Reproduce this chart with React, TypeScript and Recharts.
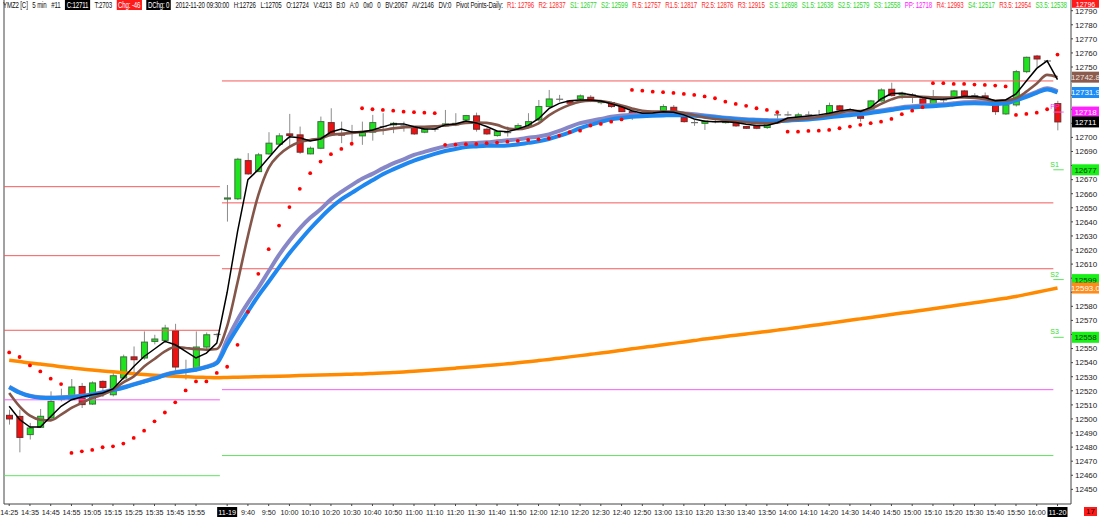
import React from 'react';
import { ComposedChart, Bar, Line, XAxis, YAxis, ReferenceLine } from 'recharts';

// 5 min bars: Fri close, Mon 11-19 session, first bar of Tue 11-20
const times = [
  '14:25', '14:30', '14:35', '14:40', '14:45', '14:50', '14:55', '15:00', '15:05', '15:10',
  '15:15', '15:20', '15:25', '15:30', '15:35', '15:40', '15:45', '15:50', '15:55', '16:00', '16:05',
  '9:30', '9:35', '9:40', '9:45', '9:50', '9:55',
  '10:00', '10:05', '10:10', '10:15', '10:20', '10:25', '10:30', '10:35', '10:40', '10:45', '10:50', '10:55',
  '11:00', '11:05', '11:10', '11:15', '11:20', '11:25', '11:30', '11:35', '11:40', '11:45', '11:50', '11:55',
  '12:00', '12:05', '12:10', '12:15', '12:20', '12:25', '12:30', '12:35', '12:40', '12:45', '12:50', '12:55',
  '13:00', '13:05', '13:10', '13:15', '13:20', '13:25', '13:30', '13:35', '13:40', '13:45', '13:50', '13:55',
  '14:00', '14:05', '14:10', '14:15', '14:20', '14:25', '14:30', '14:35', '14:40', '14:45', '14:50', '14:55',
  '15:00', '15:05', '15:10', '15:15', '15:20', '15:25', '15:30', '15:35', '15:40', '15:45', '15:50', '15:55',
  '16:00', '16:05',
  '9:30',
];
const dateTags: Record<number, string> = { 21: '11-19', 101: '11-20' };
const xTicks = [
  0, 2, 4, 6, 8, 10, 12, 14, 16, 18,
  21, 23, 25, 27, 29, 31, 33, 35, 37, 39, 41, 43, 45, 47, 49, 51, 53, 55, 57, 59,
  61, 63, 65, 67, 69, 71, 73, 75, 77, 79, 81, 83, 85, 87, 89, 91, 93, 95, 97, 99, 101,
];
const yTicks = [
  12450, 12460, 12470, 12480, 12490, 12500, 12510, 12520, 12530, 12540, 12550, 12560,
  12570, 12580, 12590, 12600, 12610, 12620, 12630, 12640, 12650, 12660, 12670, 12680,
  12690, 12700, 12710, 12720, 12730, 12740, 12750, 12760, 12770, 12780, 12790,
];

const opens = [
  12502.6, 12501.8, 12488.9, 12494.1, 12500.7, 12513.5, 12513.7, 12523.1, 12510.6, 12526.7,
  12517.2, 12529.1, 12544.1, 12543.3, 12555.1, 12555.8, 12562.7, 12534.5, 12536.2, 12551.1,
  12559.8,
  12656.2, 12656.4, 12683.5, 12675.7, 12688.3, 12695.2, 12702.5, 12701.8, 12688.3, 12692.3,
  12710.5, 12702.5, 12703, 12701.1, 12703.7, 12707.7, 12708.9, 12708.2, 12707.2, 12703.7,
  12705.8, 12708.2, 12708.9, 12712.4, 12715.3, 12705.8, 12701.3, 12703.4, 12706.5, 12708.2,
  12712.4, 12721.9, 12727.1, 12725.9, 12727.3, 12728.5, 12724.7, 12724.7, 12721.9, 12718.3,
  12717.6, 12717.2, 12719, 12721.4, 12714.1, 12710.5, 12710, 12711.2, 12710.5, 12710.5,
  12707.7, 12708.2, 12707, 12716, 12716, 12714.3, 12716, 12714.8, 12717.2, 12722.4,
  12719.5, 12715, 12717.6, 12725.9, 12734.2, 12730.2, 12730.2, 12727.3, 12723.8, 12726.6,
  12729, 12733, 12729.7, 12729.5, 12723.1, 12716.7, 12723.1, 12746.7, 12757.8, 12754.3,
  12724,
];
const highs = [
  12506.6, 12506.6, 12497.2, 12507.1, 12519.6, 12521.5, 12528.4, 12525.6, 12526.7, 12527.4,
  12533.8, 12545.7, 12551.5, 12562.2, 12559.8, 12566.9, 12567.6, 12542.1, 12562.2, 12561.5,
  12561,
  12666.2, 12685.5, 12688.8, 12689, 12703.7, 12703, 12716.7, 12707.7, 12693.5, 12714.8,
  12720.7, 12711.2, 12708.9, 12711.2, 12716, 12717.2, 12711, 12711.2, 12707.7, 12706.5,
  12707, 12719.5, 12717.2, 12716, 12717.6, 12706.8, 12705, 12707.7, 12710, 12717.2,
  12726.6, 12733.7, 12730.2, 12726.6, 12730.5, 12730, 12726.5, 12725.5, 12722.5, 12718.5,
  12718.5, 12719, 12723.5, 12723, 12714.8, 12712.4, 12712.4, 12712.5, 12713, 12711,
  12708.2, 12708.8, 12711.2, 12718.5, 12718.5, 12717.5, 12718.5, 12719.5, 12724.7, 12723.1,
  12720.7, 12716, 12726.6, 12734.9, 12738.9, 12732.5, 12731.4, 12729, 12733.7, 12728.5,
  12733.7, 12733.7, 12731.4, 12731.9, 12724.3, 12723.5, 12747.9, 12757.4, 12758.6, 12755,
  12726,
];
const lows = [
  12496, 12476.3, 12485.4, 12493.6, 12499.5, 12512.5, 12513.2, 12507.8, 12510, 12515.6,
  12516, 12527.9, 12531.4, 12542, 12553, 12553.9, 12533.8, 12528, 12533.8, 12549,
  12558,
  12640.2, 12655.5, 12673.4, 12675.7, 12687.6, 12694.8, 12693.5, 12688.3, 12688, 12691.6,
  12701, 12695.9, 12694.7, 12694.7, 12697.7, 12701.8, 12703, 12704.1, 12701.8, 12703,
  12704, 12707.5, 12708, 12710, 12704.1, 12701.8, 12700.5, 12700.6, 12705.3, 12706.5,
  12711.2, 12720.7, 12725.4, 12723.5, 12726.5, 12725, 12723.5, 12721, 12718, 12712.4,
  12716.5, 12716.5, 12716.7, 12718.3, 12710.5, 12708.2, 12705.3, 12710, 12709.8, 12707.5,
  12706, 12705.8, 12706, 12712, 12715, 12713.6, 12713.6, 12713.6, 12716.7, 12718.5,
  12718.3, 12711.2, 12716.7, 12725.4, 12729, 12727.1, 12724.3, 12721.9, 12723.1, 12723.8,
  12728, 12729, 12727.8, 12726.6, 12716, 12716, 12721.9, 12745.6, 12750, 12753,
  12705,
];
const closes = [
  12500, 12486.9, 12493.6, 12501.9, 12512.5, 12513.8, 12522.7, 12510.2, 12525.6, 12522.4,
  12530.7, 12544.1, 12542.1, 12554.6, 12556.8, 12564.6, 12536.9, 12534.5, 12551.1, 12559.8,
  12560,
  12657, 12684.5, 12674.1, 12687.6, 12695.9, 12701.1, 12701.3, 12689.5, 12692.3, 12711.2,
  12701.8, 12701.6, 12703, 12704.1, 12710.5, 12707.7, 12710, 12708.2, 12702.5, 12705.8,
  12705.8, 12709.6, 12710, 12715.5, 12705.8, 12702.5, 12704.1, 12703.4, 12708.4, 12711.2,
  12721.9, 12727.3, 12727.1, 12724.3, 12729.5, 12726.1, 12725.7, 12721.9, 12718.3, 12716.7,
  12717.6, 12718.3, 12721.9, 12719, 12711.2, 12710.5, 12711.7, 12711.2, 12712.4, 12708.2,
  12706.5, 12706.5, 12710.5, 12716, 12716, 12716, 12716, 12714.8, 12722.6, 12719.5,
  12719.5, 12713.6, 12725.9, 12733.7, 12729.7, 12731.4, 12730.2, 12722.6, 12726.6, 12726.6,
  12733, 12729.7, 12729.7, 12727.1, 12718.3, 12723.1, 12746.7, 12756.9, 12755.7, 12754.3,
  12711,
];

// overlays
const fastMa = [
  12509, 12499.6, 12494.3, 12494.3, 12501.8, 12509, 12513.7, 12515.6, 12517.2, 12518.5,
  12521.3, 12529.1, 12537.3, 12544.4, 12549.7, 12555.1, 12552.7, 12548, 12543.3, 12546.8,
  12553.9,
  12590, 12633, 12670, 12677.1, 12685.5, 12694, 12700.4, 12699.7, 12697.5, 12698.9,
  12703.9, 12706, 12703.9, 12703.9, 12705.3, 12707.5, 12709.6, 12709.6, 12707.5, 12706,
  12706, 12708.9, 12709.6, 12711.7, 12710.3, 12707.7, 12704.6, 12704.1, 12706, 12708.5,
  12713.3, 12720.4, 12724.2, 12726.1, 12726.6, 12726.6, 12725.8, 12723.9, 12721.8, 12718.9,
  12717.2, 12717.4, 12718.3, 12717.9, 12716, 12713.1, 12711.5, 12711.2, 12711.2, 12710.6,
  12709.3, 12708.4, 12708.5, 12710.4, 12713.8, 12714.5, 12715.2, 12716, 12717.2, 12718.8,
  12719.9, 12718.5, 12721.3, 12727.3, 12731.2, 12731.4, 12730.2, 12728.3, 12727.1, 12727.1,
  12727.8, 12729, 12729, 12728.3, 12726.1, 12726.6, 12730.9, 12740, 12749, 12754.3,
  12741,
];
const midMa = [
  12518.5, 12509, 12502.4, 12499.5, 12499, 12503.1, 12507.8, 12511.4, 12514.9, 12517.2,
  12520.8, 12526, 12530.2, 12537.3, 12542.6, 12548, 12551.1, 12550.4, 12549.7, 12549.2,
  12549.7,
  12566, 12597, 12630, 12659, 12678.4, 12687.6, 12693.3, 12696.8, 12698.2, 12699.3,
  12701.8, 12702.5, 12703.2, 12703.9, 12704.6, 12705.3, 12706.4, 12707.1, 12707.5, 12707.5,
  12707.8, 12708.5, 12709.2, 12710.3, 12710.6, 12710.3, 12708.9, 12706.4, 12705.8, 12707.1,
  12709.9, 12715.6, 12719.9, 12723.1, 12725.4, 12726.1, 12725.9, 12724.5, 12722.7, 12720.6,
  12718.9, 12718.3, 12718.3, 12718.3, 12717.4, 12715.7, 12714.2, 12713.1, 12712.3, 12711.5,
  12710.8, 12710.3, 12710.1, 12710.4, 12712.4, 12712.8, 12713.5, 12714.5, 12716, 12717.4,
  12718.8, 12718.8, 12720.4, 12723.8, 12727, 12728.9, 12729, 12728.9, 12728.4, 12728.3,
  12728.3, 12728.3, 12728, 12727.2, 12726, 12726.3, 12727.8, 12732.5, 12738.3, 12744.4,
  12742.8,
];
const lavMa = [
  12522.9, 12519, 12516.5, 12515.4, 12515.2, 12515.4, 12515.8, 12516.5, 12517.6, 12519,
  12520.8, 12522.5, 12524.7, 12526.8, 12528.9, 12531.4, 12533.2, 12534.2, 12535.3, 12537.1,
  12540.2,
  12556.3, 12570.5, 12582.5, 12593.2, 12604.9, 12616.6, 12626.6, 12635.4, 12642.9, 12648.9,
  12656, 12661.3, 12666.1, 12670.6, 12674.1, 12678, 12681.6, 12684.4, 12687.6, 12689.7,
  12691.8, 12693.6, 12694.9, 12695.8, 12696.1, 12696.5, 12697.2, 12697.9, 12698.6, 12699.7,
  12700.7, 12702.1, 12704.6, 12707.5, 12710.1, 12711.7, 12713.1, 12714.6, 12715.5, 12716.1,
  12716.5, 12716.8, 12717, 12717.1, 12717, 12716.5, 12715.6, 12714.8, 12714, 12713.4,
  12712.9, 12712.6, 12712.3, 12712.1, 12712.7, 12713.1, 12713.6, 12714.3, 12715.1, 12715.9,
  12716.6, 12717.3, 12718.1, 12719.2, 12720.3, 12721.5, 12722.1, 12722.6, 12723, 12723.5,
  12724.2, 12724.9, 12725.1, 12724.9, 12724.6, 12725, 12727.1, 12729.6, 12732.4, 12734.9,
  12732.7,
];
const blueMa = [
  12522.6, 12518.7, 12516.2, 12515.1, 12514.9, 12515.1, 12515.5, 12516.2, 12517.3, 12518.7,
  12520.5, 12522.2, 12524.4, 12526.5, 12528.6, 12531.1, 12532.9, 12533.9, 12535, 12536.8,
  12539.6,
  12552.7, 12564.8, 12576.2, 12587.5, 12597.5, 12607.7, 12617.7, 12626.6, 12635.1, 12642.9,
  12650, 12656, 12660.6, 12665.2, 12669.5, 12673.8, 12677.3, 12680.5, 12683.5, 12686,
  12688.3, 12690.3, 12691.8, 12693.1, 12693.6, 12694, 12694.1, 12694.3, 12695, 12696.1,
  12697.2, 12698.9, 12701.1, 12703.6, 12706.5, 12708.9, 12711, 12712.8, 12713.8, 12714.6,
  12715.1, 12715.4, 12715.6, 12715.8, 12715.8, 12715.4, 12714.9, 12714.3, 12713.6, 12712.9,
  12712.4, 12712.1, 12711.7, 12711.7, 12711.9, 12712.3, 12712.8, 12713.5, 12714.3, 12715.1,
  12715.8, 12716.5, 12717.3, 12718.4, 12719.5, 12720.7, 12721.3, 12721.8, 12722.2, 12722.7,
  12723.4, 12724.1, 12724.3, 12724.1, 12723.8, 12724.2, 12726.3, 12728.8, 12731.6, 12734.1,
  12731.9,
];
const slowMa = [
  12541.7, 12540.8, 12539.8, 12539, 12538.2, 12537.1, 12536.3, 12535.5, 12534.8, 12534.1,
  12533.5, 12532.8, 12532.2, 12531.6, 12531.1, 12530.7, 12530.3, 12530, 12529.7, 12529.5,
  12529.3,
  12529.5, 12529.7, 12529.8, 12530, 12530.2, 12530.4, 12530.6, 12530.8, 12531, 12531.2,
  12531.4, 12531.6, 12531.8, 12532, 12532.3, 12532.6, 12533, 12533.4, 12533.9, 12534.4,
  12534.9, 12535.5, 12536.1, 12536.7, 12537.3, 12537.9, 12538.5, 12539.2, 12539.9, 12540.7,
  12541.5, 12542.3, 12543.2, 12544.1, 12545, 12545.9, 12546.8, 12547.8, 12548.8, 12549.8,
  12550.8, 12551.7, 12552.7, 12553.7, 12554.7, 12555.7, 12556.8, 12557.7, 12558.6, 12559.5,
  12560.4, 12561.3, 12562.2, 12563.1, 12564, 12565, 12566, 12567, 12568, 12569,
  12570.1, 12571.1, 12572.1, 12573.2, 12574.2, 12575.2, 12576.2, 12577.2, 12578.3, 12579.3,
  12580.4, 12581.5, 12582.5, 12583.6, 12584.7, 12585.8, 12587, 12588.5, 12590, 12591.5,
  12593,
];
const sar = [
  12547.3, 12544, 12538, 12533.8, 12528.6, 12524.8, 12475.9, 12477, 12478, 12479.9,
  12480.6, 12482.5, 12486.5, 12491.7, 12498.3, 12504.6, 12511.8, 12520.3, 12526.7, 12526.7,
  12532.7,
  12537.1, 12552.7, 12576.1, 12603.1, 12620.6, 12637.4, 12650.5, 12663.5, 12674.6, 12682.8,
  12688.1, 12691.8, 12695.5, 12720.7, 12720, 12719.5, 12719, 12718.3, 12717.9, 12717.6,
  12717.2, 12694.7, 12694.9, 12695.2, 12695.4, 12695.9, 12696.3, 12697, 12697.5, 12698.2,
  12698.6, 12699.4, 12701.3, 12703.7, 12704.8, 12708.4, 12709.6, 12711.2, 12712.8, 12733.7,
  12733.2, 12732.5, 12732.1, 12731.6, 12730.9, 12730.2, 12729.1, 12727.8, 12725.4, 12723.8,
  12722.4, 12720.7, 12719.5, 12717.9, 12704.1, 12704.1, 12704.6, 12704.8, 12705.3, 12706.5,
  12707.7, 12708.9, 12710.1, 12711.2, 12713.1, 12716.5, 12719, 12721.5, 12738.5, 12738.5,
  12738, 12738, 12737.5, 12737.3, 12736.8, 12736.2, 12716, 12716.7, 12717.6, 12720,
  12758.8,
];

// daily pivots drawn per session
const friRes = [12665, 12616, 12563];
const friPP = 12513.6;
const friSup = [12459.7];
const monRes = [12740.1, 12653.5, 12606.7];
const monPP = 12520.8;
const monSup = [12474];
const tueNames = ['PP', 'S1', 'S2', 'S3'];
const tueLevels = [12718, 12677, 12599, 12558];

// price flags on the right scale
const markerValues = [12796, 12742.8, 12731.9, 12718, 12711, 12677, 12599, 12593, 12558];
const markerTexts = ['12796', '12742.8', '12731.9', '12718', '12711', '12677', '12599', '12593.0', '12558'];
const markerKinds = ['res', 'mid', 'ema', 'pp', 'last', 'sup', 'sup', 'slow', 'sup'];

const quoteItems: [string, string][] = [
  ['YMZ2 [C]', 't'], ['5 min', 't'], ['#11', 't'], ['C:12711', 'inv'], ['T:2703', 't'],
  ['Chg: -46', 'alert'], ['DChg: 0', 'inv'], ['2012-11-20 09:30:00', 't'], ['H:12726', 't'],
  ['L:12705', 't'], ['O:12724', 't'], ['V:4213', 't'], ['B:0', 't'], ['A:0', 't'], ['0x0', 't'],
  ['0', 't'], ['BV:2067', 't'], ['AV:2146', 't'], ['DV:0', 't'], ['Pivot Points-Daily:', 't'],
];
const pivotItems: [string, string][] = [
  ['R1: 12796', 'r'], ['R2: 12837', 'r'], ['S1: 12677', 's'], ['S2: 12599', 's'],
  ['R.5: 12757', 'r'], ['R1.5: 12817', 'r'], ['R2.5: 12876', 'r'], ['R3: 12915', 'r'],
  ['S.5: 12698', 's'], ['S1.5: 12638', 's'], ['S2.5: 12579', 's'], ['S3: 12558', 's'],
  ['PP: 12718', 'p'], ['R4: 12993', 'r'], ['S4: 12517', 's'], ['R3.5: 12954', 'r'],
  ['S3.5: 12538', 's'],
];

const rows = times.map((t, i) => ({
  i,
  t,
  o: opens[i],
  h: highs[i],
  l: lows[i],
  c: closes[i],
  range: [lows[i], highs[i]],
  fast: fastMa[i],
  mid: midMa[i],
  lav: lavMa[i],
  ema: blueMa[i],
  slow: slowMa[i],
  sar: sar[i],
}));

const X_DOMAIN: [number, number] = [-0.5, 102.3];
const Y_DOMAIN: [number, number] = [12439.6, 12797.6];
const RED = '#f25c5c';
const MAGENTA = '#f45cf4';
const GREEN = '#5fe35f';
const HEAD_SCALE = 0.72;

const toneStyle: Record<string, React.CSSProperties> = {
  t: { color: '#111' },
  inv: { color: '#fff', background: '#000', padding: '0 2px' },
  alert: { color: '#fff', background: '#ff1a1a', padding: '0 2px' },
  r: { color: '#ff2b2b' },
  s: { color: '#2fd52f' },
  p: { color: '#ff22ff' },
};

const markerStyle: Record<string, { bg: string; fg: string }> = {
  res: { bg: '#ff1a1a', fg: '#fff' },
  mid: { bg: '#8b5b4d', fg: '#f2e6e0' },
  ema: { bg: '#1e8cf5', fg: '#fff' },
  pp: { bg: '#ff22ff', fg: '#fff' },
  last: { bg: '#000', fg: '#fff' },
  sup: { bg: '#18f018', fg: '#053805' },
  slow: { bg: '#ff8c1a', fg: '#fff' },
};

const Candle = (props: any) => {
  const { x, y, width, height, payload } = props;
  if (x == null || y == null || !payload) return null;
  const { o, h, l, c } = payload;
  const k = h > l ? height / (h - l) : 0;
  const cx = x + width / 2;
  const top = y + (h - Math.max(o, c)) * k;
  const bot = y + (h - Math.min(o, c)) * k;
  const flat = Math.abs(c - o) < 0.35;
  const up = c > o;
  return (
    <g>
      <line x1={cx} x2={cx} y1={y} y2={y + height} stroke="#8c8c8c" strokeWidth={1} />
      {flat ? (
        <line x1={x} x2={x + width} y1={top} y2={top} stroke="#707070" strokeWidth={1.2} />
      ) : (
        <rect
          x={x + 0.5}
          y={top}
          width={width - 1}
          height={Math.max(bot - top, 1)}
          fill={up ? '#1fe31f' : '#ee1111'}
          stroke={up ? '#3d6e3d' : '#6e2a2a'}
          strokeWidth={1}
        />
      )}
    </g>
  );
};

const SarDot = (props: any) => {
  const { cx, cy, index, value } = props;
  if (value == null || cy == null || Number.isNaN(cy)) return <g key={`s${index}`} />;
  return <circle key={`s${index}`} cx={cx} cy={cy} r={1.9} fill="#ff0000" />;
};

const TimeTick = (props: any) => {
  const { x, y, payload } = props;
  const idx = payload.value as number;
  const tag = dateTags[idx];
  const label = tag ?? times[idx];
  return (
    <g transform={`translate(${x},${y - 1})`}>
      {tag && <rect x={-10} y={0} width={20} height={10} fill="#000" />}
      <text x={0} y={8} textAnchor="middle" fontSize={8} fill={tag ? '#fff' : '#222'} transform="scale(0.9,1)">
        {label}
      </text>
    </g>
  );
};

// price labels hidden where a flag covers them
const PriceTick = (props: any) => {
  const { x, y, payload } = props;
  const v = payload.value as number;
  if (markerValues.some((m) => Math.abs(m - v) < 4.5)) return <g />;
  return (
    <text x={x} y={y} dy="0.355em" textAnchor="start" fontSize={8} fill="#222">
      {v}
    </text>
  );
};

const AxisFlag = (props: any) => {
  const { viewBox, text, bg, fg } = props;
  if (!viewBox) return null;
  const x = viewBox.x + viewBox.width + 1;
  const y = viewBox.y;
  // the flag at the very top is cut by the picture edge: keep only the part that shows
  const top = Math.max(y - 5.5, 0);
  const h = y + 5.5 - top;
  const cut = h < 11;
  return (
    <g>
      <rect x={x} y={top} width={27} height={h} fill={bg} />
      <text x={x + 13.5} y={cut ? top + h - 1 : y + 3} textAnchor="middle" fontSize={cut ? 7 : 8} fill={fg}>
        {text}
      </text>
    </g>
  );
};

const PivotTag = (props: any) => {
  const { viewBox, text, color } = props;
  if (!viewBox) return null;
  return (
    <text x={viewBox.x - 3} y={viewBox.y - 3} fontSize={7} fill={color}>
      {text}
    </text>
  );
};

const seg = (x1: number, x2: number, y: number) => [
  { x: x1, y },
  { x: x2, y },
];

const HeaderRow = ({ items, left, width }: { items: [string, string][]; left: number; width: number }) => (
  <div
    style={{
      position: 'absolute',
      left,
      top: 0,
      width: width / HEAD_SCALE,
      display: 'flex',
      justifyContent: 'space-between',
      fontSize: 8.5,
      lineHeight: '10px',
      letterSpacing: -0.2,
      whiteSpace: 'nowrap',
      transform: `scaleX(${HEAD_SCALE})`,
      transformOrigin: '0 0',
    }}
  >
    {items.map(([text, tone], k) => (
      <span key={k} style={toneStyle[tone]}>
        {text}
      </span>
    ))}
  </div>
);

export default function App() {
  return (
    <div
      style={{
        position: 'absolute',
        left: 0,
        top: 0,
        width: 1100,
        height: 517,
        background: '#fff',
        overflow: 'hidden',
        fontFamily: "'Liberation Sans', Arial, sans-serif",
      }}
    >
      <ComposedChart width={1100} height={517} data={rows} margin={{ top: 0, right: 0, bottom: 0, left: 4 }}>
        <XAxis
          dataKey="i"
          type="number"
          domain={X_DOMAIN}
          allowDataOverflow
          ticks={xTicks}
          interval={0}
          tick={<TimeTick />}
          tickSize={2}
          height={13}
          axisLine={{ stroke: '#444' }}
          tickLine={{ stroke: '#444' }}
        />
        <YAxis
          orientation="right"
          type="number"
          domain={Y_DOMAIN}
          allowDataOverflow
          ticks={yTicks}
          interval={0}
          width={29}
          tickSize={2}
          tickMargin={2}
          tick={<PriceTick />}
          axisLine={{ stroke: '#444' }}
          tickLine={{ stroke: '#444' }}
        />
        <ReferenceLine x={-0.5} stroke="#444" ifOverflow="visible" />

        {friRes.map((v) => (
          <ReferenceLine key={`fr${v}`} segment={seg(-0.5, 20.3, v)} stroke={RED} ifOverflow="visible" />
        ))}
        <ReferenceLine segment={seg(-0.5, 20.3, friPP)} stroke={MAGENTA} ifOverflow="visible" />
        {friSup.map((v) => (
          <ReferenceLine key={`fs${v}`} segment={seg(-0.5, 20.3, v)} stroke={GREEN} ifOverflow="visible" />
        ))}
        {monRes.map((v) => (
          <ReferenceLine key={`mr${v}`} segment={seg(20.5, 100.6, v)} stroke={RED} ifOverflow="visible" />
        ))}
        <ReferenceLine segment={seg(20.5, 100.6, monPP)} stroke={MAGENTA} ifOverflow="visible" />
        {monSup.map((v) => (
          <ReferenceLine key={`ms${v}`} segment={seg(20.5, 100.6, v)} stroke={GREEN} ifOverflow="visible" />
        ))}
        {tueLevels.map((v, k) => (
          <ReferenceLine
            key={`tp${v}`}
            segment={seg(100.6, 101.6, v)}
            stroke={tueNames[k] === 'PP' ? MAGENTA : GREEN}
            ifOverflow="visible"
            label={<PivotTag text={tueNames[k]} color={tueNames[k] === 'PP' ? '#ff33ff' : '#33dd33'} />}
          />
        ))}

        <Line dataKey="slow" type="monotone" stroke="#ff8a00" strokeWidth={3.5} dot={false} activeDot={false} isAnimationActive={false} />
        <Line dataKey="lav" type="monotone" stroke="#8787c8" strokeWidth={4} dot={false} activeDot={false} isAnimationActive={false} />
        <Line dataKey="ema" type="monotone" stroke="#1e88f0" strokeWidth={4} dot={false} activeDot={false} isAnimationActive={false} />
        <Line dataKey="sar" stroke="none" dot={SarDot} activeDot={false} isAnimationActive={false} />
        <Bar dataKey="range" barSize={7} shape={(p: any) => <Candle {...p} />} isAnimationActive={false} />
        <Line dataKey="mid" type="monotone" stroke="#84564a" strokeWidth={2.6} dot={false} activeDot={false} isAnimationActive={false} />
        <Line dataKey="fast" type="linear" stroke="#000" strokeWidth={1.5} dot={false} activeDot={false} isAnimationActive={false} />
      </ComposedChart>

      {/* price flags sit above the axis labels, so they get their own layer with the same scales */}
      <div style={{ position: 'absolute', left: 0, top: 0, pointerEvents: 'none' }}>
        <ComposedChart width={1100} height={517} data={rows} margin={{ top: 0, right: 29, bottom: 13, left: 4 }}>
          <XAxis dataKey="i" type="number" domain={X_DOMAIN} allowDataOverflow hide />
          <YAxis type="number" domain={Y_DOMAIN} allowDataOverflow hide />
          {markerValues.map((v, k) => (
            <ReferenceLine
              key={`mk${k}`}
              y={v}
              stroke="none"
              ifOverflow="visible"
              label={<AxisFlag text={markerTexts[k]} bg={markerStyle[markerKinds[k]].bg} fg={markerStyle[markerKinds[k]].fg} />}
            />
          ))}
        </ComposedChart>
      </div>

      <HeaderRow items={quoteItems} left={3} width={500} />
      <HeaderRow items={pivotItems} left={507} width={560} />
      <div
        style={{
          position: 'absolute',
          left: 1084,
          top: 507,
          width: 13,
          height: 9,
          background: '#ff1a1a',
          color: '#200',
          fontSize: 8,
          lineHeight: '9px',
          textAlign: 'center',
        }}
      >
        17
      </div>
    </div>
  );
}
